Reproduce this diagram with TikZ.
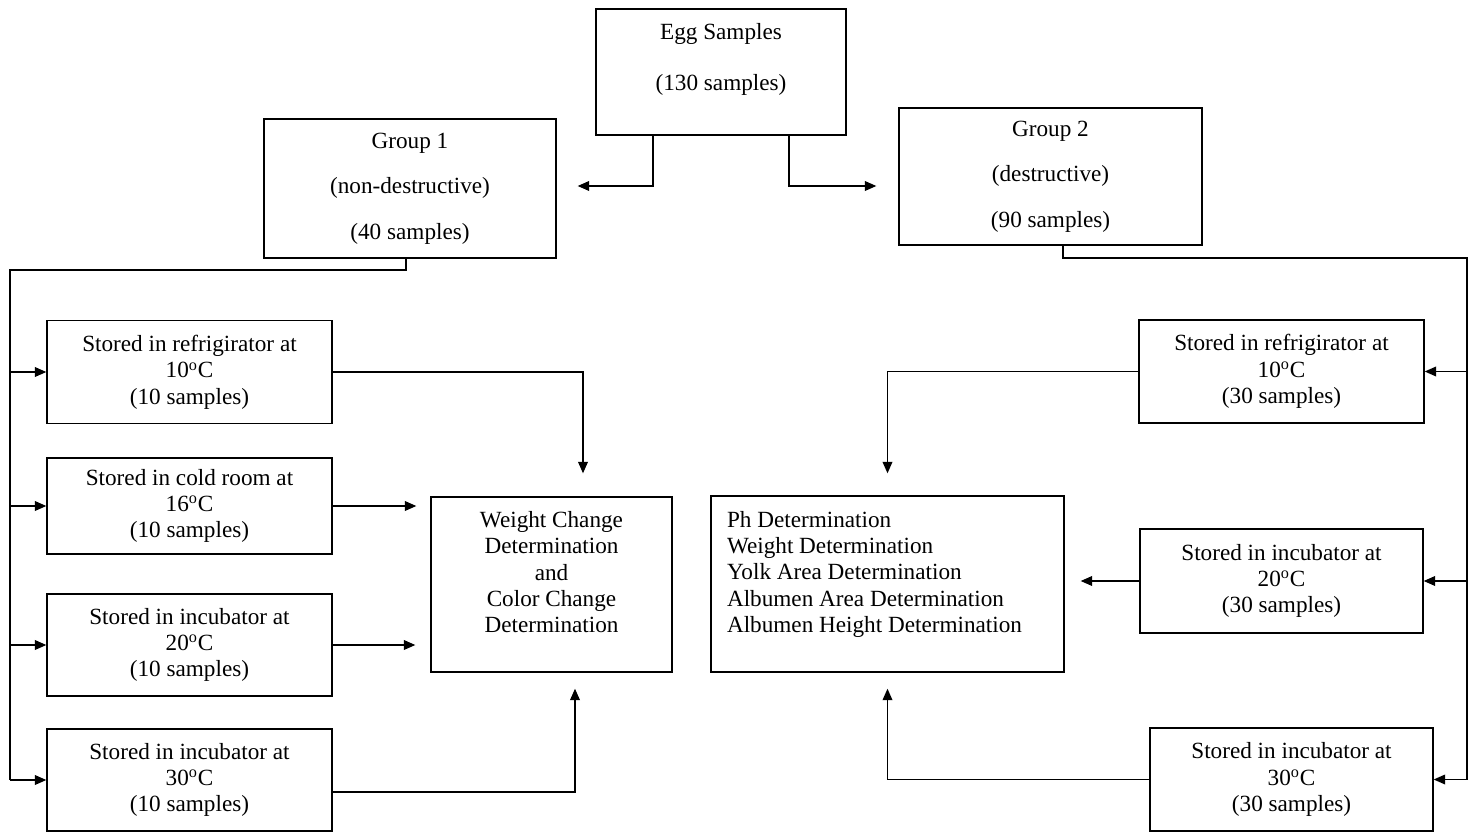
\documentclass[tikz,border=0pt]{standalone}
\usepackage{fontspec}
\setmainfont{Liberation Serif}
\usepackage{tikz}
\usetikzlibrary{arrows.meta}

\begin{document}
\begin{tikzpicture}[>={Triangle[length=6.5pt,width=5.5pt]}, x=0.02cm, y=-0.02cm, line width=0.8pt,
  box/.style={draw, align=center, inner sep=2pt, font=\fontsize{13.2}{15}\selectfont},
  store/.style={box, minimum width=5.7cm, minimum height=2.06cm}]
  \useasboundingbox (0,0) rectangle (1475,832);
  % top of the tree
  \node[box, minimum width=5cm, minimum height=2.52cm] (egg) at (721,72) {Egg Samples\\[14pt](130 samples)\\[2pt]\mbox{}};
  \node[box, minimum width=5.84cm, minimum height=2.78cm] (g1) at (410,188.5) {Group 1\\[11pt](non-destructive)\\[11pt](40 samples)};
  \node[box, minimum width=6.06cm, minimum height=2.74cm] (g2) at (1050.5,176.5) {Group 2\\[11pt](destructive)\\[11pt](90 samples)};
  % storage, group 1
  \node[store] (L1) at (189.5,372) {Stored in refrigirator at\\10\textsuperscript{o}C\\(10 samples)};
  \node[store, minimum height=1.92cm] (L2) at (189.5,506) {Stored in cold room at\\16\textsuperscript{o}C\\(10 samples)};
  \node[store, minimum height=2.04cm] (L3) at (189.5,645) {Stored in incubator at\\20\textsuperscript{o}C\\(10 samples)};
  \node[store, minimum height=2.04cm] (L4) at (189.5,780) {Stored in incubator at\\30\textsuperscript{o}C\\(10 samples)};
  % storage, group 2
  \node[store] (R1) at (1281.5,371.5) {Stored in refrigirator at\\10\textsuperscript{o}C\\(30 samples)};
  \node[store, minimum width=5.66cm, minimum height=2.08cm] (R2) at (1281.5,581) {Stored in incubator at\\20\textsuperscript{o}C\\(30 samples)};
  \node[store, minimum width=5.66cm] (R3) at (1291.5,779.5) {Stored in incubator at\\30\textsuperscript{o}C\\(30 samples)};
  % determinations
  \node[box, minimum width=4.82cm, minimum height=3.5cm] (WC) at (551.5,584.5) {Weight Change\\Determination\\and\\Color Change\\Determination\\[-1pt]\mbox{}};
  \node[box, align=flush left, text width=6.42cm, inner xsep=0.32cm, minimum height=3.52cm] (PH) at (887.5,584) {Ph Determination\\Weight Determination\\Yolk Area Determination\\Albumen Area Determination\\Albumen Height Determination\\[-1pt]\mbox{}};

  \draw[->, shorten >=0.42cm] ([xshift=-1.36cm]egg.south) |- ([yshift=0.05cm]g1.east);
  \draw[->, shorten >=0.44cm] ([xshift=1.36cm]egg.south) |- ([yshift=-0.19cm]g2.west);

  \coordinate (lbus) at (10,270);
  \draw ([xshift=-0.08cm]g1.south) |- (lbus) -- (lbus |- L4.west);
  \draw[->] (lbus |- L1.west) -- (L1.west);
  \draw[->] (lbus |- L2.west) -- (L2.west);
  \draw[->] (lbus |- L3.west) -- (L3.west);
  \draw[->] (lbus |- L4.west) -- (L4.west);

  \coordinate (rbus) at (1467,258);
  \draw ([xshift=0.25cm]g2.south) |- (rbus) -- (rbus |- R3.east);
  \draw[->] (rbus |- R1.east) -- (R1.east);
  \draw[->] (rbus |- R2.east) -- (R2.east);
  \draw[->] (rbus |- R3.east) -- (R3.east);

  \draw[->, shorten >=0.46cm] (L1.east) -| ([xshift=0.63cm]WC.north);
  \draw[->, shorten >=0.28cm] (L2.east) -- (L2.east -| WC.west);
  \draw[->, shorten >=0.3cm] (L3.east) -- (L3.east -| WC.west);
  \draw[->, shorten >=0.32cm] ([yshift=-0.24cm]L4.east) -| ([xshift=0.47cm]WC.south);

  \draw[->, shorten >=0.44cm] (R1.west) -| (PH.north);
  \draw[->, shorten >=0.32cm] (R2.west) -- (R2.west -| PH.east);
  \draw[->, shorten >=0.32cm] (R3.west) -| (PH.south);
\end{tikzpicture}
\end{document}
